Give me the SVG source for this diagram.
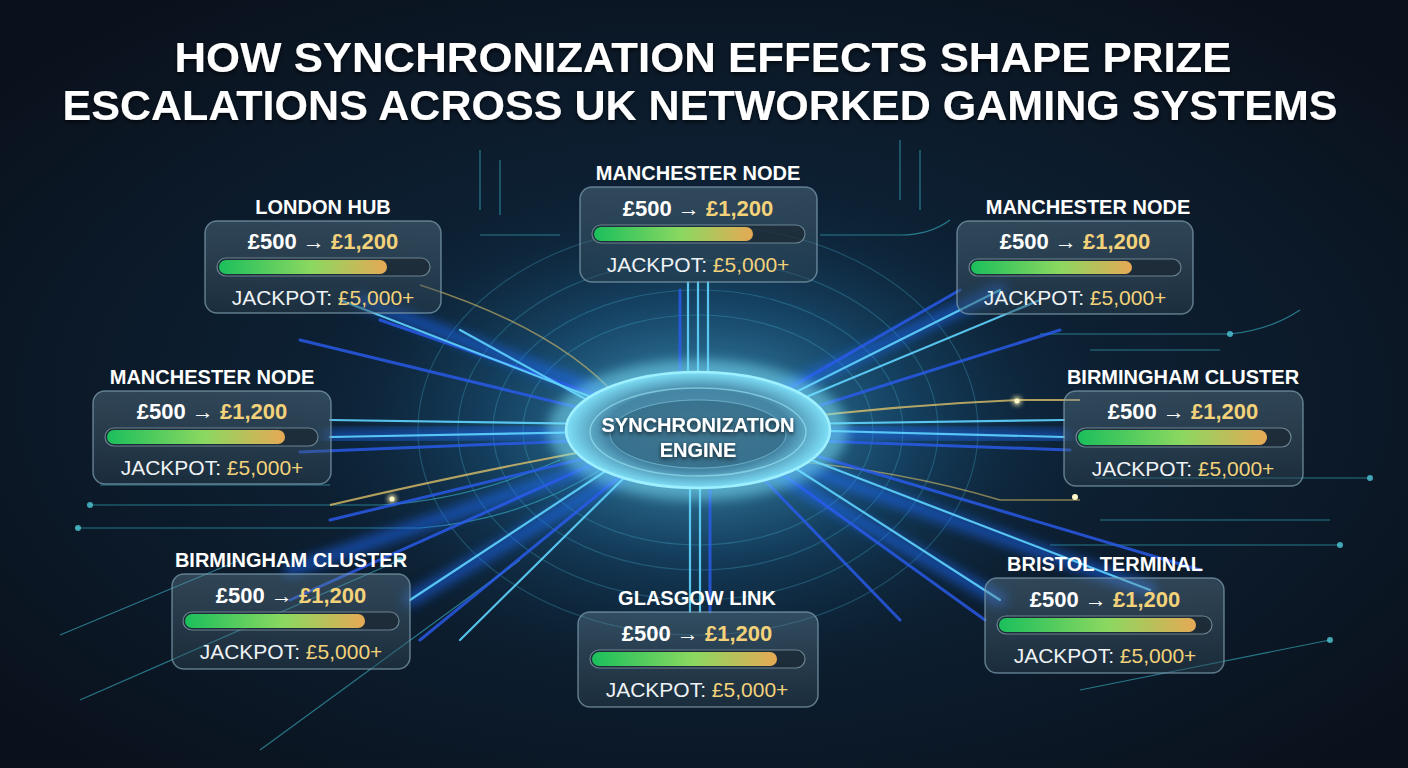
<svg xmlns="http://www.w3.org/2000/svg" width="1408" height="768" viewBox="0 0 1408 768">
<defs>
<radialGradient id="bg" cx="0.5" cy="0.52" r="0.65">
<stop offset="0" stop-color="#123a55"/>
<stop offset="0.35" stop-color="#0d2236"/>
<stop offset="1" stop-color="#0a111c"/>
</radialGradient>
<radialGradient id="glow" cx="0.5" cy="0.5" r="0.5">
<stop offset="0" stop-color="#6fe0ff" stop-opacity="0.6"/>
<stop offset="0.5" stop-color="#2a8fd0" stop-opacity="0.22"/>
<stop offset="1" stop-color="#0a2030" stop-opacity="0"/>
</radialGradient>
<radialGradient id="core" cx="0.5" cy="0.5" r="0.5">
<stop offset="0" stop-color="#5a8fa8"/>
<stop offset="0.7" stop-color="#4586a5"/>
<stop offset="1" stop-color="#7fe0f8"/>
</radialGradient>
<linearGradient id="bar" x1="0" x2="1" y1="0" y2="0">
<stop offset="0" stop-color="#1bbf5c"/>
<stop offset="0.55" stop-color="#8bd860"/>
<stop offset="1" stop-color="#e6a955"/>
</linearGradient>
<linearGradient id="card" x1="0" x2="0" y1="0" y2="1">
<stop offset="0" stop-color="#6a8a9c" stop-opacity="0.38"/>
<stop offset="1" stop-color="#2c4250" stop-opacity="0.45"/>
</linearGradient>
<filter id="blur8" x="-50%" y="-50%" width="200%" height="200%"><feGaussianBlur stdDeviation="6"/></filter>
<filter id="blur3" x="-50%" y="-50%" width="200%" height="200%"><feGaussianBlur stdDeviation="2.5"/></filter>
<filter id="tshadow" x="-10%" y="-30%" width="120%" height="160%"><feDropShadow dx="0" dy="2" stdDeviation="2" flood-color="#000" flood-opacity="0.7"/></filter>
</defs>
<style>
.lbl{font-family:"Liberation Sans",Arial,sans-serif;font-weight:700;font-size:20px;fill:#ffffff;text-anchor:middle}
.amt{font-family:"Liberation Sans",Arial,sans-serif;font-weight:700;font-size:22px;fill:#ffffff;text-anchor:middle}
.jp{font-family:"Liberation Sans",Arial,sans-serif;font-size:21px;fill:#eef2f5;text-anchor:middle}
.gold{fill:#f3d27a}
.cardbox{fill:url(#card);stroke:#7fa0b0;stroke-opacity:0.7;stroke-width:1.5}
.track{fill:#1a2630;fill-opacity:0.7;stroke:#7d97a5;stroke-opacity:0.8;stroke-width:1.2}
.fill{fill:url(#bar)}
.rayw{stroke:#1e6cff;stroke-width:12;stroke-linecap:round;opacity:0.6;filter:url(#blur8)}
.rayc{stroke:#5fd3ff;stroke-width:2.2;stroke-linecap:round;opacity:0.9}
.rayb{stroke:#2a5cf0;stroke-width:3;stroke-linecap:round;opacity:0.8}
.thin{stroke:#3bb7c9;stroke-width:1.2;fill:none;opacity:0.6}
.dot{fill:#4fc8d8;opacity:0.8}
.title{font-family:"Liberation Sans",Arial,sans-serif;font-weight:700;font-size:42px;fill:#ffffff;text-anchor:middle}
</style>
<rect width="1408" height="768" fill="url(#bg)"/>
<ellipse cx="698" cy="430" rx="420" ry="260" fill="url(#glow)"/>

<g id="connectors">
<g fill="none" stroke="#4fc8e8" stroke-opacity="0.25" stroke-width="1.2">
<ellipse cx="698" cy="430" rx="175" ry="115"/>
<ellipse cx="698" cy="430" rx="205" ry="140"/>
<ellipse cx="698" cy="430" rx="240" ry="170"/>
<ellipse cx="698" cy="430" rx="280" ry="205"/>
</g>
<g>
<path class="thin" d="M90 505 H380 Q470 500 560 460"/>
<path class="thin" d="M75 528 H420 Q520 520 600 470"/>
<path class="thin" d="M100 485 H330"/>
<path class="thin" d="M1095 478 H1370"/>
<path class="thin" d="M1100 520 H1330"/>
<path class="thin" d="M1050 545 H1340"/>
<path class="thin" d="M1040 334 H1230 Q1270 330 1300 310"/>
<path class="thin" d="M1090 350 H1220"/>
<path class="thin" d="M820 235 H900 Q930 235 950 220"/>
<path class="thin" d="M480 235 H560"/>
<path class="thin" d="M60 635 L240 560"/>
<path class="thin" d="M80 700 L400 560"/>
<path class="thin" d="M260 750 L520 560"/>
<path class="thin" d="M1080 690 L1330 640"/>
<path class="thin" d="M900 140 V200 M920 150 V210"/>
<path class="thin" d="M480 150 V210 M500 160 V215"/>
<circle class="dot" cx="90" cy="505" r="3"/>
<circle class="dot" cx="78" cy="528" r="3"/>
<circle class="dot" cx="1370" cy="478" r="3"/>
<circle class="dot" cx="1340" cy="545" r="3"/>
<circle class="dot" cx="1230" cy="334" r="3"/>
<circle class="dot" cx="400" cy="560" r="3"/>
<circle class="dot" cx="1330" cy="640" r="3"/>
</g>
<path d="M330 505 Q480 470 620 445" fill="none" stroke="#e8c86a" stroke-width="2" opacity="0.75"/>
<circle cx="392" cy="499" r="4" fill="#fff3b0" filter="url(#blur3)"/>
<circle cx="392" cy="499" r="2.5" fill="#fff6c8"/>
<path d="M780 420 Q900 405 1020 400 H1080" fill="none" stroke="#e8c86a" stroke-width="2" opacity="0.75"/>
<circle cx="1017" cy="401" r="4" fill="#fff3b0" filter="url(#blur3)"/>
<circle cx="1017" cy="401" r="2.5" fill="#fff6c8"/>
<path d="M420 285 Q560 330 620 400" fill="none" stroke="#e8c86a" stroke-width="1.6" opacity="0.55"/>
<path d="M780 460 Q900 470 1000 500 H1080" fill="none" stroke="#e8c86a" stroke-width="1.6" opacity="0.55"/>
<circle cx="1075" cy="497" r="3" fill="#fff6c8"/>
<g>
<line class="rayw" x1="698" y1="430" x2="360" y2="300"/>
<line class="rayw" x1="698" y1="430" x2="330" y2="437"/>
<line class="rayw" x1="698" y1="430" x2="410" y2="600"/>
<line class="rayw" x1="698" y1="430" x2="698" y2="282"/>
<line class="rayw" x1="698" y1="430" x2="698" y2="612"/>
<line class="rayw" x1="698" y1="430" x2="1000" y2="290"/>
<line class="rayw" x1="698" y1="430" x2="1064" y2="437"/>
<line class="rayw" x1="698" y1="430" x2="1000" y2="600"/>
<line class="rayw" x1="698" y1="430" x2="1150" y2="590"/>
<line class="rayw" x1="698" y1="430" x2="290" y2="570"/>
</g>
<g>
<line class="rayb" x1="640" y1="410" x2="380" y2="320"/>
<line class="rayc" x1="630" y1="412" x2="340" y2="300"/>
<line class="rayb" x1="630" y1="420" x2="300" y2="340"/>
<line class="rayc" x1="620" y1="418" x2="460" y2="330"/>
<line class="rayc" x1="600" y1="432" x2="330" y2="437"/>
<line class="rayb" x1="600" y1="440" x2="300" y2="452"/>
<line class="rayc" x1="600" y1="424" x2="330" y2="420"/>
<line class="rayb" x1="620" y1="450" x2="330" y2="520"/>
<line class="rayc" x1="630" y1="455" x2="410" y2="600"/>
<line class="rayb" x1="640" y1="460" x2="420" y2="640"/>
<line class="rayc" x1="640" y1="462" x2="460" y2="640"/>
<line class="rayb" x1="620" y1="452" x2="290" y2="600"/>
<line class="rayc" x1="688" y1="372" x2="688" y2="282"/>
<line class="rayc" x1="698" y1="372" x2="698" y2="282"/>
<line class="rayc" x1="708" y1="372" x2="708" y2="282"/>
<line class="rayb" x1="680" y1="372" x2="680" y2="290"/>
<line class="rayc" x1="690" y1="488" x2="690" y2="612"/>
<line class="rayc" x1="700" y1="488" x2="700" y2="612"/>
<line class="rayb" x1="710" y1="488" x2="710" y2="612"/>
<line class="rayc" x1="760" y1="410" x2="1000" y2="290"/>
<line class="rayb" x1="760" y1="405" x2="960" y2="290"/>
<line class="rayc" x1="770" y1="412" x2="1040" y2="300"/>
<line class="rayb" x1="780" y1="418" x2="1060" y2="330"/>
<line class="rayc" x1="790" y1="430" x2="1064" y2="437"/>
<line class="rayb" x1="790" y1="440" x2="1070" y2="450"/>
<line class="rayc" x1="790" y1="424" x2="1064" y2="420"/>
<line class="rayc" x1="770" y1="452" x2="1000" y2="600"/>
<line class="rayb" x1="760" y1="458" x2="985" y2="620"/>
<line class="rayc" x1="780" y1="448" x2="1150" y2="590"/>
<line class="rayb" x1="780" y1="445" x2="1200" y2="570"/>
<line class="rayb" x1="750" y1="465" x2="900" y2="620"/>
</g>
</g>

<g id="engine">
<ellipse cx="698" cy="430" rx="150" ry="70" fill="#7fe6ff" opacity="0.5" filter="url(#blur8)"/>
<ellipse cx="698" cy="430" rx="132" ry="58" fill="url(#core)" stroke="#9ff0ff" stroke-width="2.5"/>
<ellipse cx="698" cy="432" rx="108" ry="44" fill="none" stroke="#9fe8f8" stroke-opacity="0.6" stroke-width="1.5"/>
<ellipse cx="698" cy="434" rx="88" ry="34" fill="#2f647e" fill-opacity="0.6" stroke="#8fdcef" stroke-opacity="0.5" stroke-width="1"/>
<text class="lbl" x="698" y="432" font-size="21" filter="url(#tshadow)">SYNCHRONIZATION</text>
<text class="lbl" x="698" y="457" font-size="21" filter="url(#tshadow)">ENGINE</text>
</g>

<g id="title">
<text class="title" x="703" y="72" textLength="1057" lengthAdjust="spacingAndGlyphs" filter="url(#tshadow)">HOW SYNCHRONIZATION EFFECTS SHAPE PRIZE</text>
<text class="title" x="700" y="120" textLength="1275" lengthAdjust="spacingAndGlyphs" filter="url(#tshadow)">ESCALATIONS ACROSS UK NETWORKED GAMING SYSTEMS</text>
</g>

<g id="london-hub">
<text class="lbl" x="323" y="214">LONDON HUB</text>
<rect class="cardbox" x="205" y="221" width="236" height="92" rx="12"/>
<text class="amt" x="323" y="249">£500 → <tspan class="gold">£1,200</tspan></text>
<rect class="track" x="217" y="258" width="213" height="18" rx="9"/>
<rect class="fill" x="219" y="260" width="168" height="14" rx="7"/>
<text class="jp" x="323" y="305">JACKPOT: <tspan class="gold">£5,000+</tspan></text>
</g>

<g id="manchester-top">
<text class="lbl" x="698" y="180">MANCHESTER NODE</text>
<rect class="cardbox" x="580" y="187" width="237" height="95" rx="12"/>
<text class="amt" x="698" y="216">£500 → <tspan class="gold">£1,200</tspan></text>
<rect class="track" x="592" y="225" width="213" height="18" rx="9"/>
<rect class="fill" x="594" y="227" width="159" height="14" rx="7"/>
<text class="jp" x="698" y="272">JACKPOT: <tspan class="gold">£5,000+</tspan></text>
</g>

<g id="manchester-right">
<text class="lbl" x="1088" y="214">MANCHESTER NODE</text>
<rect class="cardbox" x="957" y="221" width="236" height="93" rx="12"/>
<text class="amt" x="1075" y="249">£500 → <tspan class="gold">£1,200</tspan></text>
<rect class="track" x="969" y="259" width="212" height="17" rx="8.5"/>
<rect class="fill" x="971" y="261" width="161" height="13" rx="6.5"/>
<text class="jp" x="1075" y="305">JACKPOT: <tspan class="gold">£5,000+</tspan></text>
</g>

<g id="manchester-left">
<text class="lbl" x="212" y="384">MANCHESTER NODE</text>
<rect class="cardbox" x="93" y="391" width="238" height="93" rx="12"/>
<text class="amt" x="212" y="419">£500 → <tspan class="gold">£1,200</tspan></text>
<rect class="track" x="105" y="428" width="213" height="18" rx="9"/>
<rect class="fill" x="107" y="430" width="178" height="14" rx="7"/>
<text class="jp" x="212" y="475">JACKPOT: <tspan class="gold">£5,000+</tspan></text>
</g>

<g id="birmingham-right">
<text class="lbl" x="1183" y="384">BIRMINGHAM CLUSTER</text>
<rect class="cardbox" x="1064" y="391" width="239" height="95" rx="12"/>
<text class="amt" x="1183" y="419">£500 → <tspan class="gold">£1,200</tspan></text>
<rect class="track" x="1076" y="428" width="215" height="19" rx="9.5"/>
<rect class="fill" x="1078" y="430" width="189" height="15" rx="7.5"/>
<text class="jp" x="1183" y="476">JACKPOT: <tspan class="gold">£5,000+</tspan></text>
</g>

<g id="birmingham-left">
<text class="lbl" x="291" y="567">BIRMINGHAM CLUSTER</text>
<rect class="cardbox" x="172" y="574" width="238" height="95" rx="12"/>
<text class="amt" x="291" y="603">£500 → <tspan class="gold">£1,200</tspan></text>
<rect class="track" x="183" y="612" width="216" height="18" rx="9"/>
<rect class="fill" x="185" y="614" width="180" height="14" rx="7"/>
<text class="jp" x="291" y="659">JACKPOT: <tspan class="gold">£5,000+</tspan></text>
</g>

<g id="glasgow-link">
<text class="lbl" x="697" y="605">GLASGOW LINK</text>
<rect class="cardbox" x="578" y="612" width="240" height="95" rx="12"/>
<text class="amt" x="697" y="641">£500 → <tspan class="gold">£1,200</tspan></text>
<rect class="track" x="590" y="650" width="215" height="18" rx="9"/>
<rect class="fill" x="592" y="652" width="185" height="14" rx="7"/>
<text class="jp" x="697" y="697">JACKPOT: <tspan class="gold">£5,000+</tspan></text>
</g>

<g id="bristol-terminal">
<text class="lbl" x="1105" y="571">BRISTOL TERMINAL</text>
<rect class="cardbox" x="985" y="578" width="239" height="95" rx="12"/>
<text class="amt" x="1105" y="607">£500 → <tspan class="gold">£1,200</tspan></text>
<rect class="track" x="997" y="616" width="215" height="18" rx="9"/>
<rect class="fill" x="999" y="618" width="197" height="14" rx="7"/>
<text class="jp" x="1105" y="663">JACKPOT: <tspan class="gold">£5,000+</tspan></text>
</g>
</svg>
